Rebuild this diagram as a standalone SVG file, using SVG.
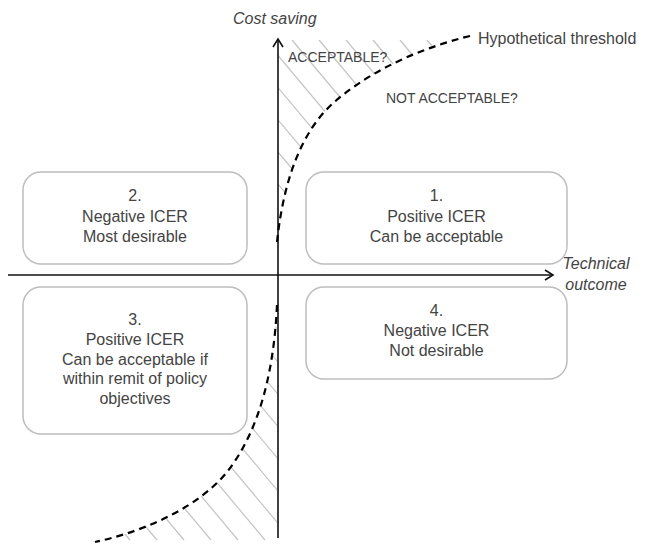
<svg xmlns="http://www.w3.org/2000/svg" width="651" height="545" viewBox="0 0 651 545">
<style>
.box{fill:#fff;stroke:#bdbdbd;stroke-width:1.5}
.t{font-family:"Liberation Sans",Arial,sans-serif;font-size:16px;fill:#444;text-anchor:middle}
.lbl{font-family:"Liberation Sans",Arial,sans-serif;font-size:14px;fill:#444}
.it{font-family:"Liberation Sans",Arial,sans-serif;font-size:16px;font-style:italic;fill:#444}
.axis{stroke:#111;stroke-width:1.6;fill:none}
.thr{stroke:#000;stroke-width:2.2;fill:none;stroke-dasharray:7 5}
.h line{stroke:#c4c4c4;stroke-width:1.2}
</style>
<defs>
<clipPath id="cu"><path d="M278,40 L278,242 C282,195 295,140 330,106 C360,78 410,50 472,36 L472,40 Z"/></clipPath>
<clipPath id="cl"><path d="M277,305 C274,370 260,430 227,472 C200,505 150,530 95,542 L277,542 Z"/></clipPath>
</defs>
<g id="hatching">
<g class="h" clip-path="url(#cu)">
<line x1="130" y1="40" x2="297" y2="239"/>
<line x1="157" y1="40" x2="324" y2="239"/>
<line x1="184" y1="40" x2="351" y2="239"/>
<line x1="211" y1="40" x2="378" y2="239"/>
<line x1="238" y1="40" x2="405" y2="239"/>
<line x1="265" y1="40" x2="432" y2="239"/>
<line x1="292" y1="40" x2="459" y2="239"/>
<line x1="319" y1="40" x2="486" y2="239"/>
<line x1="346" y1="40" x2="513" y2="239"/>
<line x1="373" y1="40" x2="540" y2="239"/>
<line x1="400" y1="40" x2="567" y2="239"/>
<line x1="427" y1="40" x2="594" y2="239"/>
<line x1="454" y1="40" x2="621" y2="239"/>
</g>
<g class="h" clip-path="url(#cl)">
<line x1="-71" y1="300" x2="130" y2="540"/>
<line x1="-44" y1="300" x2="157" y2="540"/>
<line x1="-17" y1="300" x2="184" y2="540"/>
<line x1="10" y1="300" x2="211" y2="540"/>
<line x1="37" y1="300" x2="238" y2="540"/>
<line x1="64" y1="300" x2="265" y2="540"/>
<line x1="91" y1="300" x2="292" y2="540"/>
<line x1="118" y1="300" x2="319" y2="540"/>
<line x1="145" y1="300" x2="346" y2="540"/>
<line x1="172" y1="300" x2="373" y2="540"/>
<line x1="199" y1="300" x2="400" y2="540"/>
<line x1="226" y1="300" x2="427" y2="540"/>
<line x1="253" y1="300" x2="454" y2="540"/>
</g>
</g>
<g id="connectors">
<line class="axis" x1="278" y1="538" x2="278" y2="40"/>
<polyline class="axis" points="273,47 278,39 283,47"/>
<line class="axis" x1="8" y1="275" x2="553" y2="275"/>
<polyline class="axis" points="545,270 553,275 545,280"/>
<path class="thr" d="M277,242 C282,195 295,140 330,106 C360,78 410,50 474,35"/>
<path class="thr" d="M277,305 C274,370 260,430 227,472 C200,505 150,530 95,542"/>
</g>
<g id="labels">
<text class="it" x="233" y="24">Cost saving</text>
<text class="it" x="596" y="269" text-anchor="middle">Technical</text>
<text class="it" x="596" y="290" text-anchor="middle">outcome</text>
<text class="lbl" x="288" y="62">ACCEPTABLE?</text>
<text class="lbl" x="386" y="103">NOT ACCEPTABLE?</text>
<text class="lbl" x="478" y="44" style="font-size:16px">Hypothetical threshold</text>
</g>
<g id="node1">
<rect class="box" x="306" y="172" width="261" height="92" rx="18"/>
<text class="t" x="436.5" y="201">1.</text>
<text class="t" x="436.5" y="222">Positive ICER</text>
<text class="t" x="436.5" y="242">Can be acceptable</text>
</g>
<g id="node2">
<rect class="box" x="23" y="172" width="224" height="92" rx="18"/>
<text class="t" x="135" y="201">2.</text>
<text class="t" x="135" y="222">Negative ICER</text>
<text class="t" x="135" y="242">Most desirable</text>
</g>
<g id="node3">
<rect class="box" x="23" y="287" width="224" height="147" rx="18"/>
<text class="t" x="135" y="325">3.</text>
<text class="t" x="135" y="345">Positive ICER</text>
<text class="t" x="135" y="365">Can be acceptable if</text>
<text class="t" x="135" y="384">within remit of policy</text>
<text class="t" x="135" y="404">objectives</text>
</g>
<g id="node4">
<rect class="box" x="306" y="287" width="261" height="92" rx="18"/>
<text class="t" x="436.5" y="316">4.</text>
<text class="t" x="436.5" y="336">Negative ICER</text>
<text class="t" x="436.5" y="356">Not desirable</text>
</g>
</svg>
